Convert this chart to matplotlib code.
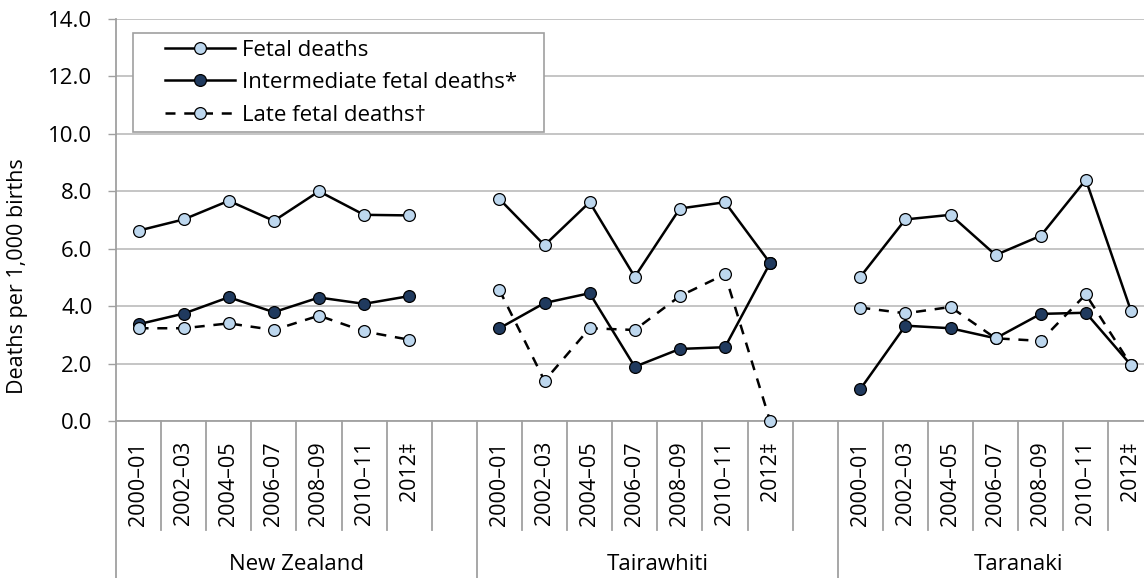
import numpy as np
import matplotlib
matplotlib.use("Agg")
import matplotlib.pyplot as plt
from matplotlib.lines import Line2D
from matplotlib.legend_handler import HandlerLine2D

plt.rcParams['font.family'] = ['Open Sans', 'DejaVu Sans']

# ---- data ----
periods = ["2000\u201301", "2002\u201303", "2004\u201305", "2006\u201307",
           "2008\u201309", "2010\u201311", "2012\u2021"]
regions = ["New Zealand", "Tairawhiti", "Taranaki"]

fetal_nz = [6.63, 7.02, 7.67, 6.97, 8.00, 7.18, 7.16]
fetal_tw = [7.73, 6.12, 7.62, 5.02, 7.40, 7.62, 5.50]
fetal_tk = [5.02, 7.02, 7.18, 5.78, 6.45, 8.40, 3.84]

inter_nz = [3.37, 3.74, 4.31, 3.79, 4.30, 4.08, 4.35]
inter_tw = [3.23, 4.11, 4.45, 1.89, 2.51, 2.57, 5.50]
inter_tk = [1.11, 3.32, 3.23, 2.88, 3.73, 3.77, 1.95]

late_nz = [3.23, 3.23, 3.40, 3.17, 3.67, 3.12, 2.83]
late_tw = [4.56, 1.40, 3.23, 3.17, 4.35, 5.11, 0.00]
late_tk = [3.95, 3.75, 3.97, 2.88, 2.79, 4.41, 1.95]

series = [
    ("Fetal deaths", [fetal_nz, fetal_tw, fetal_tk], '-', '#BDD7EE'),
    ("Intermediate fetal deaths*", [inter_nz, inter_tw, inter_tk], '-', '#203A5E'),
    ("Late fetal deaths\u2020", [late_nz, late_tw, late_tk], '--', '#BDD7EE'),
]

FS = 16
W, H = 1144, 578
fig = plt.figure(figsize=(W / 100, H / 100), dpi=100)
x0, x1 = 116, 1153.5
ytop, ybot = 19, 421
ax = fig.add_axes([x0 / W, (H - ybot) / H, (x1 - x0) / W, (ybot - ytop) / H])
renderer = fig.canvas.get_renderer()

n_per = len(periods)
slot = n_per + 1
nslots = slot * len(regions) - 1

grid_c = '#C0C0C0'
axis_c = '#A0A0A0'

handles = []
for name, groups, ls, fc in series:
    xs, ys = [], []
    for g, vals in enumerate(groups):
        xs += [g * slot + i for i in range(n_per)]
        ys += list(vals)
        if g < len(groups) - 1:
            xs.append(g * slot + n_per)
            ys.append(np.nan)
    kw = dict(dashes=(4, 3.5)) if ls == '--' else {}
    ln, = ax.plot(xs, ys, linestyle=ls, color='black', lw=1.8,
                  marker='o', markersize=8.5, markerfacecolor=fc,
                  markeredgecolor='black', markeredgewidth=0.9,
                  zorder=3, clip_on=False, label=name, **kw)
    handles.append(ln)

ax.set_xlim(-0.5, nslots - 0.5)
ax.set_ylim(0, 14)
ax.set_yticks(np.arange(0, 15, 2))
ax.set_yticklabels([f"{v:.1f}" for v in np.arange(0, 15, 2)], fontsize=FS)
ax.yaxis.grid(True, color=grid_c, lw=1.3)
ax.set_axisbelow(True)
ax.set_xticks([])
ax.tick_params(axis='y', length=6, width=1, color=axis_c, pad=11)
for s in ['top', 'right']:
    ax.spines[s].set_visible(False)
for s in ['left', 'bottom']:
    ax.spines[s].set_color(axis_c)
    ax.spines[s].set_linewidth(1.3)

# category axis
trans = ax.get_xaxis_transform()
short_y = -(530 - ybot) / (ybot - ytop)
long_y = -(H - ybot) / (ybot - ytop)
for k in range(nslots + 1):
    xb = k - 0.5
    is_group = (k % slot == 0)
    y_end = long_y if is_group else short_y
    ax.add_line(Line2D([xb, xb], [0, y_end], transform=trans, color=axis_c,
                       lw=1.3, clip_on=False))

# fit the period label size to the reference length (~85 px)
probe = fig.text(0, 0, periods[0], fontsize=FS)
pw = probe.get_window_extent(renderer).width
probe.remove()
fs_year = FS * 85.0 / pw

label_y = -(441 - ybot) / (ybot - ytop)
for g, reg in enumerate(regions):
    for i, p in enumerate(periods):
        ax.text(g * slot + i, label_y, p, transform=trans, rotation=90,
                ha='center', va='top', fontsize=fs_year)
    ax.text(g * slot + (slot - 1) / 2, -(564 - ybot) / (ybot - ytop), reg,
            transform=trans, ha='center', va='center', fontsize=FS)

fig.text(18 / W, 1 - 276 / H, "Deaths per 1,000 births", rotation=90,
         ha='center', va='center', fontsize=FS - 0.5)

# legend
lx0 = (133 - x0) / (x1 - x0)
lx1 = (544 - x0) / (x1 - x0)
ly1 = (ybot - 33) / (ybot - ytop)
ly0 = (ybot - 130) / (ybot - ytop)
px = 100 / 72.0  # pixels per point
bp = 0.3
box_in = bp * FS * px           # handle box start offset in px
p_off = (165 - 133) - box_in    # px shift of line start
L = (235 - 133) - box_in        # handle box length in px
hl = L / px / FS
htp = (242 - 235) / px / FS
hmap = {h: HandlerLine2D(xpad=(p_off / px) / FS) for h in handles}
leg = ax.legend(handles=handles, loc='upper left',
                bbox_to_anchor=(lx0, ly0, lx1 - lx0, ly1 - ly0),
                mode='expand', handler_map=hmap,
                borderaxespad=0, fontsize=FS, frameon=True, fancybox=False,
                edgecolor=axis_c, framealpha=1, handlelength=hl,
                handletextpad=htp, labelspacing=0.52, borderpad=bp)
leg.get_frame().set_linewidth(1.2)
leg.set_zorder(5)

fig.savefig("out.png", dpi=100)
